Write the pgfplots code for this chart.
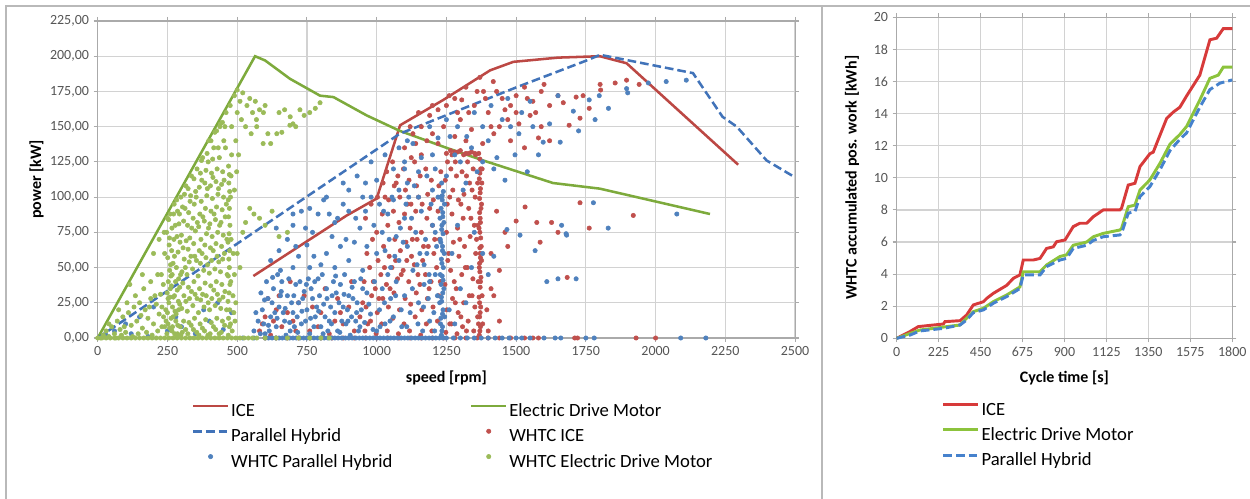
\documentclass[border=0pt]{standalone}
\usepackage{fontspec}
\setmainfont{Carlito}
\usepackage{pgfplots}
\pgfplotsset{compat=1.18}
\definecolor{iceP}{RGB}{192,80,77}
\definecolor{phP}{RGB}{79,129,189}
\definecolor{edmP}{RGB}{155,187,89}
\definecolor{iceL}{RGB}{188,72,68}
\definecolor{edmL}{RGB}{125,170,60}
\definecolor{phL}{RGB}{65,115,185}
\definecolor{iceR}{RGB}{215,58,58}
\definecolor{edmR}{RGB}{140,195,60}
\definecolor{phR}{RGB}{70,130,205}
\definecolor{gridc}{RGB}{210,210,210}
\definecolor{axisc}{RGB}{170,170,170}
\definecolor{tickc}{RGB}{85,85,85}
\definecolor{framec}{RGB}{185,185,185}
\pgfplotsset{
  mystyle/.style={
    scale only axis, anchor=south west, clip=false,
    grid=major, major grid style={gridc, line width=0.9pt},
    axis line style={axisc, line width=0.8pt},
    tick style={axisc, line width=0.8pt}, tick align=outside, major tick length=3pt,
    ticklabel style={font=\fontsize{10.5}{12}\selectfont, color=tickc},
    /pgf/number format/assume math mode=true,
    label style={font=\bfseries\fontsize{12}{14}\selectfont},
    legend image code/.code={\draw[mark repeat=2,mark phase=2,##1] plot coordinates {(0pt,4.5pt) (13pt,4.5pt) (26pt,4.5pt)};},
    legend style={draw=none, fill=none, inner sep=0pt, font=\fontsize{14}{16}\selectfont,
      nodes={inner xsep=1.5pt, inner ysep=3pt, text height=10pt, text depth=3pt},
      cells={anchor=west}, row sep=0pt, column sep=0pt},
  },
  ptsty/.style={only marks, mark=*, mark size=1.65pt, mark options={draw=none, fill=#1}, color=#1},
}
\begin{document}
\begin{tikzpicture}
\useasboundingbox (0pt,0pt) rectangle (937.5pt,374.25pt);
\draw[framec, line width=1.3pt] (4.5pt,-5pt) -- (4.5pt,369.75pt) -- (942pt,369.75pt);
\draw[framec, line width=1.3pt] (616.5pt,-5pt) -- (616.5pt,369.75pt);
% ================= LEFT =================
\begin{axis}[mystyle,
  at={(73.3pt,120.75pt)}, width=523pt, height=237.75pt,
  xmin=0, xmax=2500, ymin=0, ymax=225,
  xtick={0,250,...,2500}, ytick={0,25,...,225},
  xticklabel style={/pgf/number format/1000 sep={}},
  yticklabel style={/pgf/number format/.cd, fixed, fixed zerofill, precision=2, use comma},
  xlabel={speed [rpm]}, ylabel={power [kW]},
  xlabel style={at={(axis description cs:0.5,-0.1262)}, anchor=center},
  ylabel style={at={(axis description cs:-0.0876,0.5)}, anchor=center},
  legend columns=2,
  legend style={at={(axis description cs:0.1348,-0.1924)}, anchor=north west},
]
\addlegendimage{iceL, line width=1.9pt}
\addlegendentry{\makebox[177.7pt][l]{ICE}}
\addlegendimage{edmL, line width=1.9pt}
\addlegendentry{Electric Drive Motor}
\addlegendimage{phL, line width=1.9pt, dash pattern=on 6.5pt off 3pt}
\addlegendentry{\makebox[177.7pt][l]{Parallel Hybrid}}
\addlegendimage{ptsty=iceP}
\addlegendentry{WHTC ICE}
\addlegendimage{ptsty=phP}
\addlegendentry{\makebox[177.7pt][l]{WHTC Parallel Hybrid}}
\addlegendimage{ptsty=edmP}
\addlegendentry{WHTC Electric Drive Motor}
% ---- WHTC ICE points
\addplot[ptsty=iceP, forget plot] coordinates {
(580,5)(600,15)(620,2)(640,20)(660,8)(700,12)(720,25)(760,5)(800,18)(830,3)(860,28)(880,10)(900,22)(920,5)(940,15)(610,28)(680,18)(740,30)(790,8)(850,12)(590,10)(630,12)
(650,30)(710,5)(770,22)(815,35)(870,18)(910,40)(950,25)(690,40)
(958,5)(962,22)(955,40)(965,60)(960,85)
(978,12)(982,30)(975,50)(985,70)(980,95)
(998,3)(1002,18)(995,35)(1005,55)(1000,75)(1003,100)
(1018,10)(1022,28)(1015,45)(1025,65)(1020,88)(1023,110)
(1038,5)(1042,22)(1035,38)(1045,58)(1040,80)(1043,98)(1036,118)
(1058,14)(1062,32)(1055,50)(1065,70)(1060,90)(1063,108)(1057,125)
(1078,3)(1082,20)(1075,42)(1085,62)(1080,82)(1083,100)(1076,115)
(1098,10)(1102,28)(1095,48)(1105,68)(1100,88)(1103,105)(1096,120)
(1118,5)(1122,24)(1115,40)(1125,58)(1120,78)(1123,95)(1116,112)(1124,128)
(1138,15)(1142,32)(1135,52)(1145,70)(1140,90)(1143,108)(1136,125)
(1158,2)(1162,20)(1155,38)(1165,55)(1160,75)(1163,95)(1156,115)
(1178,10)(1182,28)(1175,45)(1185,65)(1180,85)(1183,102)(1176,120)
(1198,5)(1202,22)(1195,40)(1205,60)(1200,80)(1203,98)(1196,112)
(1218,12)(1222,30)(1215,50)(1225,70)(1220,90)(1223,108)
(1248,4)(1252,20)(1245,38)(1255,55)(1250,75)(1253,95)(1246,112)(1254,125)
(1268,10)(1272,28)(1265,48)(1275,68)(1270,88)(1273,105)(1266,120)(1270,130)
(1288,3)(1292,18)(1285,35)(1295,58)(1290,78)(1293,98)(1286,115)(1290,132)
(1308,8)(1312,25)(1305,45)(1315,65)(1310,85)(1313,102)(1306,118)(1312,130)
(1328,12)(1332,30)(1325,50)(1335,72)(1330,92)(1333,110)(1326,125)(1330,131)
(1348,5)(1352,22)(1345,42)(1355,60)(1350,80)(1353,100)(1346,120)(1352,131)
(968,10)(988,40)(1008,28)(1028,50)(1048,35)(1068,55)(1088,45)(1108,55)(1128,70)(1148,45)(1168,65)(1188,35)(1208,70)(1228,40)(1258,60)(1278,40)(1298,70)(1318,50)(1338,85)(1358,70)(1262,100)(1282,125)(1302,95)(1322,115)(1342,105)(1362,110)(1030,100)(1070,110)(1110,95)(1150,100)(1190,92)(1230,118)(1262,10)(1282,25)(1302,15)(1322,5)(1342,30)(1362,15)
(1368,2)(1372,8)(1369,15)(1373,22)(1367,29)(1371,36)(1374,43)(1368,50)(1372,57)(1370,64)(1373,71)(1367,78)(1371,85)(1374,92)(1369,99)(1372,106)(1368,113)(1373,120)(1370,127)(1366,131)(1375,65)(1378,30)(1380,10)(1376,95)
(1370,5)(1371,18)(1369,25)(1372,40)(1370,47)(1369,53)(1371,60)(1370,75)(1372,82)(1369,89)(1371,103)(1370,117)(1364,40)(1376,55)(1363,80)(1377,110)(1365,10)(1378,120)
(1395,20)(1410,35)(1400,5)
(1250,131)(1265,133)(1280,132)(1300,133)(1320,131)(1340,132)(1355,130)
(1100,135)(1130,145)(1160,150)(1190,158)(1220,162)(1250,165)(1280,170)(1305,169)(1330,160)(1360,175)(1383,175)(1418,182)(1450,170)(1480,165)(1500,172)(1530,178)(1560,168)(1590,175)(1620,165)(1650,172)(1669,167)(1715,171)(1740,172)(1801,180)(1803,176)(1855,181)(1896,183)(1941,180)
(1180,140)(1240,150)(1300,155)(1340,148)(1400,160)(1440,150)(1470,155)(1510,152)(1550,158)(1590,150)(1620,140)(1690,151)(1729,156)(1762,163)
(1160,130)(1220,138)(1280,143)(1320,140)(1380,138)(1420,145)(1480,140)(1530,135)(1580,142)
(1120,150)(1150,160)(1200,165)(1260,172)(1290,160)(1320,178)(1350,165)(1390,170)(1410,150)(1370,185)(1200,145)(1140,138)(1430,175)(1460,162)(1500,160)(1540,170)(1570,160)(1600,180)
(1430,90)(1460,75)(1500,83)(1532,93)(1574,82)(1586,68)(1627,82)(1650,75)(1683,43)(1729,96)(1762,78)(1920,87)(1410,60)(1440,48)(1470,65)(1420,30)(1440,12)
(600,0)(640,0)(680,0)(720,0)(760,0)(800,0)(840,0)(880,0)(920,0)(960,0)(1000,0)(1040,0)(1080,0)(1120,0)(1160,0)(1200,0)(1240,0)(1280,0)(1320,0)(1360,0)(1400,0)(1440,0)(1480,0)(1530,0)(1560,0)(1580,0)(1710,0)(1720,0)(1930,0)(2000,0)
};
% ---- WHTC Parallel Hybrid points
\addplot[ptsty=phP, forget plot] coordinates {
(30,2)(60,5)(100,10)(150,15)(200,22)(250,5)(300,8)(350,3)(400,12)(450,6)(120,3)(180,1)(280,15)(380,20)(430,25)(480,18)
(560,5)(575,12)(590,20)(600,3)(610,28)(620,15)(630,35)(640,8)(650,22)(660,40)(670,12)(680,30)(690,5)(700,18)(710,38)(720,25)(730,10)(740,33)(750,20)(760,3)(770,28)(780,15)(790,42)(800,8)(810,24)(820,35)(830,12)(840,30)(850,18)(860,5)(870,38)(880,22)(890,10)(900,30)(910,15)(920,40)(930,25)(940,8)(950,35)
(585,32)(605,40)(625,25)(645,45)(665,18)(685,42)(705,8)(725,40)(745,12)(765,35)(785,22)(805,45)(825,5)(845,40)(865,25)(885,45)(905,2)(925,12)(945,20)
(595,10)(615,5)(635,18)(655,30)(675,2)(695,25)(715,15)(735,28)(755,42)(775,8)(795,30)(815,15)(835,22)(855,32)(875,12)(895,20)(915,28)(935,5)
(567,18)(583,3)(598,27)(612,9)(627,43)(643,14)(658,33)(672,21)(688,11)(703,30)(717,4)(732,19)(748,38)(763,14)(778,40)(792,19)(808,3)(822,28)(838,10)(853,44)(868,4)(883,31)(897,12)(912,36)(928,18)(943,42)(957,11)(972,24)(987,6)(965,32)(978,17)(992,40)
(620,55)(650,62)(680,70)(700,80)(720,58)(750,66)(770,75)(790,88)(800,52)(820,60)(840,72)(860,85)(880,95)(900,55)(920,68)(940,78)(960,90)(980,100)(1000,60)(1020,75)(1040,88)(1060,98)(1080,105)(700,50)(760,50)(850,50)(950,48)(1050,50)(640,78)(730,90)(810,98)(900,105)(960,110)(870,65)(990,80)(1030,62)(1070,72)(1100,85)
(655,48)(710,65)(745,78)(775,58)(830,88)(890,70)(925,85)(965,65)(1010,95)(1065,58)(1095,68)(1115,100)(1135,108)(1155,60)(1200,105)(1190,40)(1210,75)(1170,52)
(700,88)(760,92)(820,100)(880,110)(930,115)(980,125)(1030,130)(1060,120)(1080,135)(1100,125)(1000,112)(950,100)(900,90)(850,82)(1110,140)(1150,118)
(1000,5)(1010,20)(1020,35)(1030,10)(1040,45)(1050,28)(1060,15)(1070,40)(1080,55)(1090,8)(1100,30)(1110,65)(1120,18)(1130,48)(1140,75)(1150,25)(1160,90)(1170,38)(1180,60)(1190,12)(1200,80)(1210,45)(1220,100)(1165,5)(1185,28)(1205,18)(1125,85)(1145,52)(1105,95)(1175,70)(1195,95)(1215,65)(1085,78)(1045,70)(1025,90)(1055,100)
(1012,8)(1028,25)(1048,12)(1068,30)(1088,20)(1108,8)(1128,35)(1148,10)(1168,22)(1188,45)(1208,5)(1218,30)
(1232,2)(1236,8)(1230,14)(1238,20)(1233,26)(1237,32)(1231,38)(1235,44)(1239,50)(1232,56)(1236,62)(1230,68)(1238,74)(1234,80)(1237,86)(1231,92)(1235,98)(1239,104)(1233,110)(1228,45)(1242,60)(1226,25)(1244,15)(1227,85)(1243,95)
(1234,5)(1236,17)(1232,29)(1238,41)(1234,53)(1236,65)(1233,77)(1237,89)(1235,101)(1229,10)(1241,35)(1228,70)(1241,82)(1229,100)
(1260,20)(1280,10)(1300,35)(1320,25)(1340,50)(1270,60)(1290,80)(1310,105)(1350,75)(1380,60)(1400,45)(1420,58)(1467,77)(1514,73)(1568,62)(1663,80)(1681,73)(1679,74)(1830,78)(1777,96)(2076,88)(1715,42)(1610,40)(1650,42)
(1100,120)(1130,138)(1160,128)(1190,150)(1220,142)(1250,155)(1263,143)(1290,150)(1323,143)(1350,160)(1380,150)(1410,165)(1431,128)(1450,155)(1470,170)(1496,130)(1520,160)(1550,168)(1580,130)(1597,139)(1620,152)(1650,172)(1658,139)(1705,161)(1724,147)(1762,169)(1783,155)(1798,172)(1831,163)(1896,177)(1900,174)(1974,181)(2038,182)(2110,183)(1400,140)(1300,125)(1200,130)(1360,118)(1460,112)(1540,118)
(1110,110)(1150,100)(1180,115)(1210,120)(1250,115)(1280,130)(1320,110)(1340,135)(1380,125)(1420,120)(1480,150)(1510,145)(1560,150)
(520,0)(560,0)(600,0)(625,0)(650,0)(675,0)(700,0)(725,0)(750,0)(775,0)(800,0)(825,0)(850,0)(875,0)(900,0)(925,0)(950,0)(975,0)(1000,0)(1025,0)(1050,0)(1075,0)(1100,0)(1125,0)(1150,0)(1175,0)(1200,0)(1225,0)(1250,0)(1275,0)(1300,0)(1325,0)(1350,0)(1375,0)(1400,0)(1425,0)(1450,0)(1475,0)(1500,0)(1520,0)(1550,0)(1600,0)(1640,0)(1660,0)(1750,0)(1780,0)(2090,0)(2180,0)
(612,0)(638,0)(662,0)(688,0)(712,0)(738,0)(762,0)(788,0)(812,0)(838,0)(862,0)(888,0)(912,0)(938,0)(962,0)(988,0)(1012,0)(1038,0)(1062,0)(1088,0)(1112,0)(1138,0)(1162,0)(1188,0)(1212,0)(1238,0)
};
% ---- WHTC Electric Drive Motor points
\addplot[ptsty=edmP, forget plot] coordinates {
(10,0)(20,2)(30,5)(40,1)(50,8)(60,3)(70,12)(80,6)(90,15)(100,4)(110,18)(120,9)(130,22)(140,12)(150,25)(160,7)(170,20)(180,14)(190,28)(200,10)(210,24)(220,17)(225,31)(215,5)(195,2)(175,4)(145,3)(125,1)(85,2)(65,0)(155,16)(185,22)(205,30)(230,22)(235,38)(228,45)(240,60)(238,75)(250,85)
(40,10)(75,20)(95,8)(105,25)(135,30)(165,35)(190,40)(215,45)(200,60)(220,70)(160,45)(115,38)(230,8)(236,15)
(248,3)(252,10)(250,18)(255,25)(249,32)(253,40)(258,48)(251,57)(256,66)(247,75)(254,84)
(266,5)(263,14)(268,22)(271,29)(264,37)(267,45)(270,53)(265,62)(273,70)(266,78)(272,88)
(283,2)(287,9)(281,17)(289,26)(285,34)(290,42)(282,50)(288,61)(284,72)(291,81)(286,90)(283,98)
(303,4)(308,12)(301,21)(309,30)(305,39)(302,47)(310,56)(306,64)(300,73)(308,83)(304,93)(311,102)
(323,3)(327,11)(321,19)(329,28)(325,36)(320,45)(328,54)(324,63)(330,71)(322,80)(326,89)(331,97)(324,106)
(343,6)(347,14)(341,23)(349,31)(345,40)(340,49)(348,58)(344,67)(350,76)(342,85)(346,95)(351,104)(345,113)
(363,2)(367,10)(361,18)(369,27)(365,35)(360,44)(368,53)(364,62)(370,70)(362,79)(366,88)(371,97)(364,107)(368,117)(372,126)
(383,5)(387,13)(381,22)(389,30)(385,39)(380,48)(388,57)(384,66)(390,74)(382,83)(386,92)(391,101)(384,110)(388,119)(392,131)
(403,3)(407,11)(401,20)(409,28)(405,37)(400,46)(408,55)(404,64)(410,72)(402,81)(406,90)(411,99)(404,108)(408,117)(412,127)(406,140)
(423,6)(427,14)(421,23)(429,31)(425,40)(420,49)(428,58)(424,67)(430,75)(422,84)(426,93)(431,102)(424,111)(428,120)(432,135)(426,147)
(443,4)(447,12)(441,21)(449,29)(445,38)(440,47)(448,56)(444,65)(450,73)(442,82)(446,91)(451,100)(444,109)(448,118)(452,140)(447,153)
(258,7)(259,29)(261,52)(257,71)(260,88)
(276,3)(277,19)(279,40)(275,58)(278,80)(274,95)
(296,8)(294,24)(297,45)(295,68)(293,88)(298,100)
(315,6)(316,26)(314,50)(317,69)(313,92)(316,108)
(335,9)(336,33)(334,58)(337,78)(333,101)(336,115)
(355,4)(356,28)(354,55)(357,82)(353,100)(356,120)
(375,7)(376,31)(374,60)(377,86)(373,112)(376,128)
(395,2)(396,25)(394,52)(397,78)(393,106)(396,125)(398,140)
(415,8)(416,34)(414,62)(417,88)(413,114)(416,135)
(435,3)(436,27)(434,54)(437,80)(433,106)(436,128)(438,150)
(455,9)(456,33)(454,60)(457,86)(453,112)(458,135)(456,150)
(462,20)(464,45)(463,70)(461,95)(476,10)(477,40)(478,70)(476,100)(478,115)
(245,12)(252,28)(260,35)(268,8)(275,30)(280,12)(290,20)(298,2)(240,8)(244,20)(262,44)(270,15)(286,3)(294,36)
(468,2)(472,8)(469,14)(473,20)(467,26)(471,32)(474,38)(468,44)(472,50)(470,56)(473,62)(467,68)(471,74)(474,80)(469,86)(472,92)(468,98)(473,104)(470,110)(472,116)(469,122)
(482,5)(488,18)(485,30)(490,45)(492,12)(486,60)(495,25)
(420,146)(440,152)(460,160)(475,165)(490,172)(500,176)(510,168)(520,174)(535,165)(545,170)(555,160)(565,168)(580,162)(600,165)(500,160)(515,155)(530,150)(550,145)(570,150)(594,160)(610,145)(620,138)(642,145)(660,146)(689,151)(700,152)(725,162)(740,158)(760,160)(780,163)(797,167)(650,160)(670,162)(690,157)(710,150)(480,150)(495,140)(505,130)(480,130)(498,118)(490,105)(569,155)(593,138)
(500,60)(520,75)(545,92)(560,88)(580,85)(600,80)(625,90)(650,72)(680,75)(510,50)(530,82)
(0,0)(30,0)(60,0)(90,0)(120,0)(150,0)(180,0)(210,0)(240,0)(270,0)(300,0)(330,0)(360,0)(390,0)(420,0)(450,0)(480,0)(510,0)(540,0)(570,0)(600,0)(640,0)(680,0)(720,0)(760,0)(800,0)(830,0)
(15,0)(45,0)(75,0)(105,0)(135,0)(165,0)(195,0)(225,0)(255,0)(285,0)(315,0)(345,0)(375,0)(405,0)(435,0)(465,0)(495,0)(525,0)(555,0)
};
% ---- curves
\addplot[iceL, line width=1.9pt, forget plot] coordinates {(558,44)(893,87)(1000,99)(1084,151)(1239,169)(1407,190)(1490,196)(1650,199)(1800,200)(1896,195)(2296,123)};
\addplot[edmL, line width=1.9pt, forget plot] coordinates {(0,0)(564,200)(600,197)(689,184)(797,172)(845,171)(964,158)(1083,147)(1250,135)(1382,126)(1632,110)(1800,106)(2195,88)};
\addplot[phL, line width=1.9pt, dash pattern=on 6.5pt off 3pt, forget plot] coordinates {(0,0)(1083,145)(1502,178)(1753,197)(1801,201)(2134,188)(2240,157)(2291,150)(2398,126)(2500,114)};
\end{axis}
% ================= RIGHT =================
\begin{axis}[mystyle,
  at={(672.5pt,120.5pt)}, width=251.7pt, height=240.75pt,
  xmin=0, xmax=1800, ymin=0, ymax=20,
  xtick={0,225,...,1800}, ytick={0,2,...,20},
  xticklabel style={/pgf/number format/1000 sep={}},
  xlabel={Cycle time [s]}, ylabel={WHTC accumulated pos. work [kWh]},
  xlabel style={at={(axis description cs:0.5,-0.1246)}, anchor=center},
  ylabel style={at={(axis description cs:-0.133,0.5)}, anchor=center},
  legend style={at={(axis description cs:0.134,-0.1844)}, anchor=north west},
]
\addplot[iceR, line width=2.2pt] coordinates {(0,0)(71,0.42)(116,0.73)(197,0.83)(250,0.89)(259,1.04)(340,1.1)(375,1.45)(411,2.08)(465,2.28)(483,2.49)(518,2.8)(590,3.3)(626,3.74)(661,3.95)(679,4.88)(733,4.88)(769,4.98)(804,5.6)(840,5.7)(858,6.02)(903,6.13)(947,6.96)(983,7.17)(1019,7.17)(1055,7.58)(1108,8.0)(1197,8.0)(1206,8.1)(1242,9.55)(1278,9.66)(1305,10.7)(1358,11.5)(1376,11.6)(1448,13.7)(1484,14.1)(1519,14.4)(1555,15.1)(1626,16.4)(1680,18.6)(1716,18.7)(1752,19.3)(1800,19.3)};
\addlegendentry{ICE}
\addplot[edmR, line width=2.2pt] coordinates {(0,0)(71,0.3)(125,0.52)(197,0.62)(268,0.73)(340,0.83)(375,1.25)(411,1.66)(465,1.87)(518,2.28)(590,2.7)(661,3.2)(679,4.15)(769,4.15)(804,4.57)(876,5.1)(911,5.2)(947,5.8)(1019,6.0)(1055,6.33)(1108,6.54)(1197,6.75)(1206,6.85)(1242,8.2)(1278,8.3)(1305,9.24)(1358,9.87)(1412,10.9)(1466,12.1)(1519,12.7)(1555,13.2)(1626,14.85)(1680,16.2)(1725,16.4)(1752,16.9)(1800,16.9)};
\addlegendentry{Electric Drive Motor}
\addplot[phR, line width=2.2pt, dash pattern=on 6.5pt off 3pt] coordinates {(0,0)(71,0.2)(125,0.46)(250,0.62)(340,0.83)(375,1.14)(411,1.6)(465,1.77)(518,2.18)(590,2.6)(661,3.1)(679,3.95)(769,3.95)(804,4.47)(876,4.88)(911,4.98)(947,5.6)(1019,5.8)(1055,6.1)(1108,6.33)(1197,6.44)(1206,6.54)(1242,7.8)(1278,7.9)(1305,8.83)(1358,9.45)(1412,10.5)(1466,11.7)(1519,12.4)(1555,12.8)(1626,14.4)(1680,15.5)(1734,15.9)(1800,16.1)};
\addlegendentry{Parallel Hybrid}
\end{axis}
\end{tikzpicture}
\end{document}
